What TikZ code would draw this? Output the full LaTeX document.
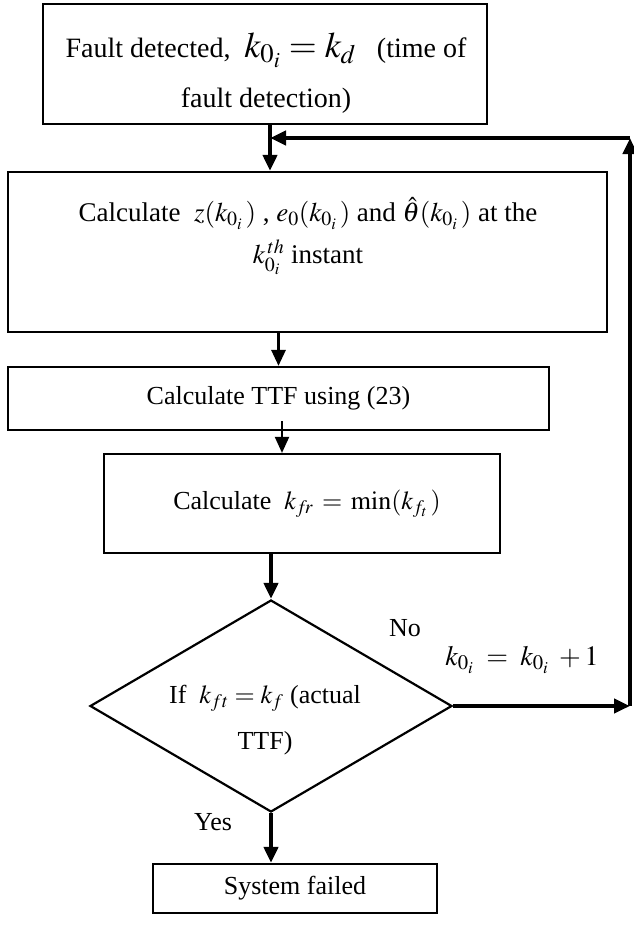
\documentclass[tikz,border=0pt]{standalone}
\usepackage{mathptmx}
\usepackage{fontspec}
\setmainfont{Liberation Serif}
\usetikzlibrary{arrows.meta,shapes.geometric}
\begin{document}
\begin{tikzpicture}[x=1pt,y=-1pt,
  font=\fontsize{26}{30}\selectfont,
  box/.style={draw, line width=2.2pt, inner sep=0pt, align=center},
  flowthick/.style={-{Triangle[length=16pt,width=14pt]}, line width=4pt},
  flowmid/.style={-{Triangle[length=16pt,width=14pt]}, line width=3pt},
  flowthin/.style={-{Triangle[length=16pt,width=14pt]}, line width=2pt},
  lbl/.style={inner sep=0pt}]
\useasboundingbox (0,0) rectangle (633,926);

\node[box, minimum width=444pt, minimum height=120pt] (b1) at (265,64) {};
\node[lbl, align=center, font=\fontsize{28}{33}\selectfont] (b1t) at (266,73)
  {Fault detected, \ {\fontsize{36}{36}\selectfont$k_{0_i} = k_d$}\ \ \ (time of\\[17pt] fault detection)};

\node[box, minimum width=599pt, minimum height=160pt] (b2) at (307.5,252) {};
\node[lbl, align=center, font=\fontsize{27}{31}\selectfont] (b2t) at (308,236)
  {Calculate \ $z(k_{0_i}\,)$ , $e_0(k_{0_i}\,)$ and $\hat{\theta}(k_{0_i}\,)$ at the\\[9pt] $k_{0_i}^{\,th}$ instant};

\node[box, minimum width=541pt, minimum height=63pt] (b3) at (278.5,398.5)
  {Calculate TTF using (23)};

\node[box, minimum width=396pt, minimum height=99pt] (b4) at (302,503.5)
  {\hspace*{10pt}Calculate \ $k_{f\!r} \,=\, \min(k_{f_t}\,)$};

\node[draw, diamond, line width=2.2pt, minimum width=362pt, minimum height=212pt, inner sep=0pt] (d) at (271,706) {};
\node[lbl, align=center] (dt) at (265,720) {If \ $k_{ft} = k_f$ (actual\\[16pt] TTF)};

\node[box, minimum width=284pt, minimum height=49pt] (b5) at (295,888.5)
  {System failed};

\node[lbl] (no) at (405,628) {No};
\node[lbl, font=\fontsize{28}{32}\selectfont] (inc) at (522,660) {$k_{0_i} \;=\; k_{0_i} \;+1$};
\node[lbl] (yes) at (213,822) {Yes};

\coordinate (j) at (270,138);
\coordinate (t) at (630,138);
\coordinate (r) at (d.east -| t);
\coordinate (a34) at (282,0);
\coordinate (a34s) at (282,421);

\draw[flowthick] (b1.south -| j) -- (b2.north -| j);
\draw[flowmid] (b2.south -| b3.north) -- (b3.north);
\draw[flowthin] (a34s) -- (b4.north -| a34);
\draw[flowthick] (b4.south -| d.north) -- (d.north);
\draw[flowthick] (d.south) -- (d.south |- b5.north);
\draw[flowthick] (d.east) -- (r);
\draw[flowthick] (r) -- (t);
\draw[flowthick] (t) -- (j);
\end{tikzpicture}
\end{document}
